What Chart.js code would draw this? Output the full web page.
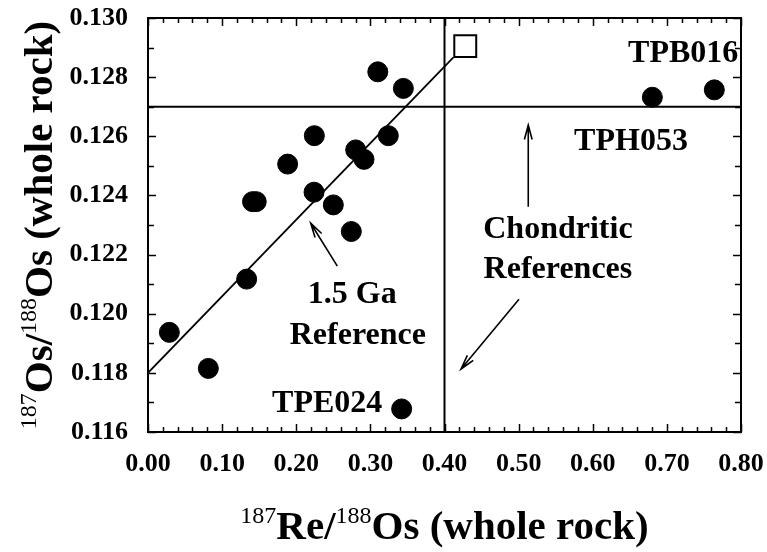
<!DOCTYPE html>
<html>
<head>
<meta charset="utf-8">
<script src="https://cdn.jsdelivr.net/npm/chart.js@4.4.1/dist/chart.umd.min.js"></script>
<style>
  html, body { margin: 0; padding: 0; background: #fff; }
</style>
</head>
<body>
<canvas id="osChart" width="767" height="552"></canvas>
<script>
// whole-rock samples
const reOs = [0.310, 0.3445, 0.2244, 0.3242, 0.2802, 0.2914, 0.1884, 0.2240, 0.141, 0.146, 0.250, 0.2743, 0.1331, 0.0288, 0.0814, 0.3422, 0.6804, 0.764];
const osOs = [0.12818, 0.12762, 0.12602, 0.12602, 0.12554, 0.12522, 0.12506, 0.12411, 0.12379, 0.12379, 0.12368, 0.12278, 0.12117, 0.11937, 0.11815, 0.11678, 0.12732, 0.12757];

// open square end member
const endReOs = [0.428];
const endOsOs = [0.12905];

// 1.5 Ga reference line
const isoRe = [0, 0.412];
const isoOs = [0.118, 0.12867];

// chondritic reference values
const chondOs = 0.127;
const chondRe = 0.40;

const xTicks = [0, 0.1, 0.2, 0.3, 0.4, 0.5, 0.6, 0.7, 0.8];
const yTicks = [0.116, 0.118, 0.120, 0.122, 0.124, 0.126, 0.128, 0.130];

// labels drawn in the plot: [text, x, y] (centre, baseline)
const notes = [
  ["TPB016", 0.722, 0.12852],
  ["TPH053", 0.6516, 0.12554],
  ["Chondritic", 0.553, 0.12256],
  ["References", 0.553, 0.12121],
  ["1.5 Ga", 0.2756, 0.12036],
  ["Reference", 0.2831, 0.11898],
  ["TPE024", 0.2418, 0.11669]
];
// arrows: [fromX, fromY, tipX, tipY]
const arrows = [
  [0.2554, 0.12161, 0.2195, 0.12306],
  [0.5130, 0.12362, 0.5130, 0.12638],
  [0.5005, 0.12049, 0.4223, 0.11813]
];

const serif = "'Liberation Serif', 'Times New Roman', serif";

const pts = (xs, ys) => xs.map((x, i) => ({ x: x, y: ys[i] }));

// draws a run of text pieces, some of them raised as superscripts
function richWidth(ctx, parts, size, supSize) {
  let w = 0;
  parts.forEach(p => {
    ctx.font = p.sup ? `${supSize}px ${serif}` : `bold ${size}px ${serif}`;
    w += ctx.measureText(p.t).width;
  });
  return w;
}
function drawRich(ctx, parts, x, y, size, supSize) {
  let cx = x;
  parts.forEach(p => {
    ctx.font = p.sup ? `${supSize}px ${serif}` : `bold ${size}px ${serif}`;
    ctx.fillText(p.t, cx, p.sup ? y - size * 0.38 : y);
    cx += ctx.measureText(p.t).width;
  });
}

const frame = {
  id: "frame",
  afterDraw(chart) {
    const ctx = chart.ctx;
    const a = chart.chartArea;
    const xs = chart.scales.x, ys = chart.scales.y;
    ctx.save();
    ctx.strokeStyle = "#000";
    ctx.fillStyle = "#000";

    // box
    ctx.lineWidth = 2;
    ctx.strokeRect(a.left, a.top, a.right - a.left, a.bottom - a.top);

    // inward ticks, minor every 0.02 / 0.001
    ctx.lineWidth = 1.5;
    ctx.beginPath();
    for (let i = 0; i <= 40; i++) {
      const px = Math.round(xs.getPixelForValue(i * 0.02)) + 0.5;
      const len = i % 5 === 0 ? 8 : 5;
      ctx.moveTo(px, a.bottom); ctx.lineTo(px, a.bottom - len);
      ctx.moveTo(px, a.top); ctx.lineTo(px, a.top + len);
    }
    for (let j = 0; j <= 14; j++) {
      const py = Math.round(ys.getPixelForValue(0.116 + j * 0.001)) + 0.5;
      const len = j % 2 === 0 ? 8 : 6;
      ctx.moveTo(a.left, py); ctx.lineTo(a.left + len, py);
      ctx.moveTo(a.right, py); ctx.lineTo(a.right - len, py);
    }
    ctx.stroke();

    // annotations
    ctx.font = `bold 32px ${serif}`;
    ctx.textAlign = "center";
    ctx.textBaseline = "alphabetic";
    notes.forEach(n => {
      ctx.fillText(n[0], xs.getPixelForValue(n[1]), ys.getPixelForValue(n[2]));
    });

    ctx.lineWidth = 1.6;
    arrows.forEach(r => {
      const x0 = xs.getPixelForValue(r[0]), y0 = ys.getPixelForValue(r[1]);
      const x1 = xs.getPixelForValue(r[2]), y1 = ys.getPixelForValue(r[3]);
      const ang = Math.atan2(y1 - y0, x1 - x0);
      const head = 15, spread = 0.26;
      ctx.beginPath();
      ctx.moveTo(x0, y0); ctx.lineTo(x1, y1);
      ctx.moveTo(x1 - head * Math.cos(ang - spread), y1 - head * Math.sin(ang - spread));
      ctx.lineTo(x1, y1);
      ctx.lineTo(x1 - head * Math.cos(ang + spread), y1 - head * Math.sin(ang + spread));
      ctx.stroke();
    });

    // axis titles
    ctx.textAlign = "left";
    const size = 41, sup = 24;
    const xTitle = [{ t: "187", sup: true }, { t: "Re/" }, { t: "188", sup: true }, { t: "Os (whole rock)" }];
    const yTitle = [{ t: "187", sup: true }, { t: "Os/" }, { t: "188", sup: true }, { t: "Os (whole rock)" }];
    const cx = (a.left + a.right) / 2;
    const wX = richWidth(ctx, xTitle, size, sup);
    drawRich(ctx, xTitle, cx - wX / 2, 539, size, sup);

    const cy = (a.top + a.bottom) / 2;
    const wY = richWidth(ctx, yTitle, size, sup);
    ctx.translate(52, cy);
    ctx.rotate(-Math.PI / 2);
    drawRich(ctx, yTitle, -wY / 2, 0, size, sup);
    ctx.restore();
  }
};

new Chart(document.getElementById("osChart"), {
  type: "scatter",
  data: {
    datasets: [
      {
        label: "Samples",
        data: pts(reOs, osOs),
        pointStyle: "circle",
        pointRadius: 10,
        pointBackgroundColor: "#000",
        pointBorderColor: "#000",
        pointBorderWidth: 1
      },
      {
        label: "End member",
        data: pts(endReOs, endOsOs),
        pointStyle: "rect",
        pointRadius: 15.5,
        pointBackgroundColor: "#fff",
        pointBorderColor: "#000",
        pointBorderWidth: 2
      },
      {
        label: "1.5 Ga",
        data: pts(isoRe, isoOs),
        showLine: true,
        pointRadius: 0,
        borderColor: "#000",
        borderWidth: 1.8
      },
      {
        label: "Chondritic Os",
        data: pts([0, 0.8], [chondOs, chondOs]),
        showLine: true,
        pointRadius: 0,
        borderColor: "#000",
        borderWidth: 2
      },
      {
        label: "Chondritic Re",
        data: pts([chondRe, chondRe], [0.116, 0.130]),
        showLine: true,
        pointRadius: 0,
        borderColor: "#000",
        borderWidth: 2
      }
    ]
  },
  options: {
    responsive: false,
    animation: false,
    devicePixelRatio: 1,
    layout: { padding: { top: 18, right: 26, left: 0, bottom: 0 } },
    plugins: {
      legend: { display: false },
      tooltip: { enabled: false }
    },
    scales: {
      x: {
        type: "linear",
        min: 0,
        max: 0.8,
        afterFit: s => { s.height = 120; s.paddingLeft = 0; s.paddingRight = 0; },
        afterBuildTicks: s => { s.ticks = xTicks.map(v => ({ value: v })); },
        grid: { display: false, drawTicks: false },
        border: { display: false },
        ticks: {
          color: "#000",
          padding: 17,
          maxRotation: 0,
          font: { family: serif, size: 26, weight: "bold" },
          callback: v => v.toFixed(2)
        }
      },
      y: {
        type: "linear",
        min: 0.116,
        max: 0.130,
        afterFit: s => { s.width = 148; s.paddingTop = 0; s.paddingBottom = 0; },
        afterBuildTicks: s => { s.ticks = yTicks.map(v => ({ value: v })); },
        grid: { display: false, drawTicks: false },
        border: { display: false },
        ticks: {
          color: "#000",
          padding: 20,
          font: { family: serif, size: 26, weight: "bold" },
          callback: v => v.toFixed(3)
        }
      }
    }
  },
  plugins: [frame]
});
</script>
</body>
</html>
